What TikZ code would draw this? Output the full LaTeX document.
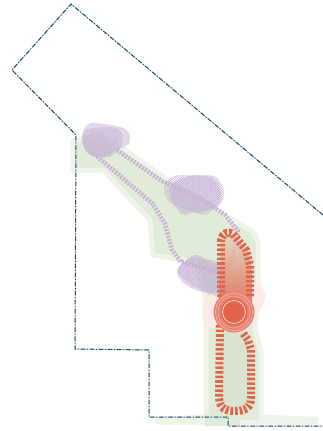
\documentclass[tikz,border=0pt]{standalone}
\usetikzlibrary{patterns,patterns.meta,shadings}
\definecolor{bnd}{HTML}{1F4E66}
\definecolor{bndl}{HTML}{B5CBD6}
\definecolor{grn}{HTML}{E0ECD9}
\definecolor{grnl}{HTML}{EEF4EA}
\definecolor{grnd}{HTML}{D9E3CF}
\definecolor{purp}{HTML}{B79CCB}
\definecolor{purpd}{HTML}{C8B4D2}
\definecolor{redd}{HTML}{E0654A}
\definecolor{redl}{HTML}{E98472}
\definecolor{peach}{HTML}{E9B49C}
\definecolor{sand}{HTML}{E3D9C2}
\definecolor{pink}{HTML}{FCEBE6}
\tikzset{
 boundary/.style={draw=bnd,line width=1pt,dash pattern=on 4.5pt off 1.8pt on 1pt off 1.8pt,line join=round},
 boundaryunder/.style={draw=bndl,line width=0.8pt,line join=round},
 greenzone/.style={fill=grn,draw=grnl,line width=5pt,line join=round},
 blobsoft/.style={fill=purp,fill opacity=0.4,draw=none,rounded corners=6pt},
 blobhatch/.style={pattern={Lines[angle=45,distance=1.7pt,line width=0.6pt]},pattern color=purp!80!white,draw=none,rounded corners=6pt},
 trail/.style={draw=purpd,line width=4.5pt,dash pattern=on 2pt off 1.4pt,line join=round},
 redtrail/.style={draw=redd,line width=8pt,dash pattern=on 2.6pt off 2pt,line join=round},
}
\begin{document}
\begin{tikzpicture}[x=1pt,y=-1pt]
\useasboundingbox (0,0) rectangle (323,431);
\fill[white] (0,0) rectangle (323,431);
% green zones
\path[greenzone] (73,141) -- (100,134) -- (125,150) -- (165,178) -- (220,212) -- (253,232) -- (258,242) -- (258,300) -- (255,330) -- (261,352) -- (261,417) -- (316,419.5) -- (316,422) -- (158,422) -- (158,419.5) -- (206,417) -- (206,300) -- (195,262) -- (153,255) -- (150,220) -- (103,170) -- (73,170) -- cycle;
\fill[grn] (205,414) rectangle (240,426);
% lower loop interior
\fill[grnd] (221,340) -- (228,325) -- (240,325) -- (250,345) -- (250,400) -- (243,411) -- (227,411) -- (219,400) -- cycle;
% glow
\fill[pink,opacity=.6] (234,314) ellipse (24 and 18);
\fill[pink] (254,297) ellipse (11 and 14);
\fill[pink] (211,312) ellipse (9 and 17);
% purple blobs
\path[blobsoft] (82,133) -- (88,122) -- (112,125) -- (128,129) -- (131,140) -- (127,147) -- (113,150) -- (107,158) -- (90,156) -- (83,148) -- cycle;
\path[blobhatch] (82,130) -- (112,126) -- (124,133) -- (120,150) -- (110,158) -- (90,156) -- (82,145) -- cycle;
\path[blobsoft] (170,184) -- (190,175) -- (212,176) -- (222,190) -- (220,205) -- (205,212) -- (186,213) -- (183,217) -- (180,212) -- (170,200) -- cycle;
\path[blobhatch] (162,190) -- (172,175) -- (216,175) -- (225,190) -- (222,204) -- (205,216) -- (170,204) -- cycle;
\path[blobsoft] (175,270) -- (195,253) -- (210,262) -- (222,265) -- (226,294) -- (205,293) -- (190,288) -- (180,280) -- cycle;
\path[blobhatch] (175,270) -- (190,257) -- (224,262) -- (226,297) -- (212,295) -- (186,282) -- cycle;
% trails
\draw[trail] (117,150) -- (162,181) -- (200,198) -- (225,215) -- (238,231) -- (232,258) -- (217,288);
\draw[trail] (92,152) -- (153,204) -- (165,224) -- (172,250) -- (181,262) -- (222,273);
% upper loop gradient, over the trail
\shade[top color=sand,middle color=peach,bottom color=redd,opacity=.85]
 (221,240) .. controls (223,234) and (229,232) .. (232,234) -- (248,250) -- (252,268) -- (252,305) -- (219,305) -- cycle;
% red trails
\draw[redtrail] (221,297) -- (221,240) .. controls (223,232) and (229,231) .. (233,234) -- (246,250) -- (250,265) -- (250,297);
\draw[redtrail] (220,325) -- (219,398) .. controls (220,409) and (226,411) .. (235,411) .. controls (245,411) and (251,408) .. (251,398) -- (251,350) -- (248,340) -- (243,333);
% target
\fill[redl] (234,312) circle (20.5);
\draw[white,opacity=.45,line width=.5pt] (234,312) circle (18.5);
\draw[white,opacity=.35,line width=.5pt] (234,312) circle (16);
\fill[redd] (234,312) circle (13.5);
\draw[white,opacity=.75,line width=.8pt] (234,312) circle (11.5);
% boundary
\draw[boundaryunder] (323,215) -- (71,4) -- (12,70) -- (76,135) -- (75,349) -- (149,350) -- (149,417) -- (228,417) -- (228,426) -- (323,426);
\draw[boundary] (323,215) -- (71,4) -- (12,70) -- (76,135) -- (75,349) -- (149,350) -- (149,417) -- (228,417) -- (228,426) -- (323,426);
\end{tikzpicture}
\end{document}
